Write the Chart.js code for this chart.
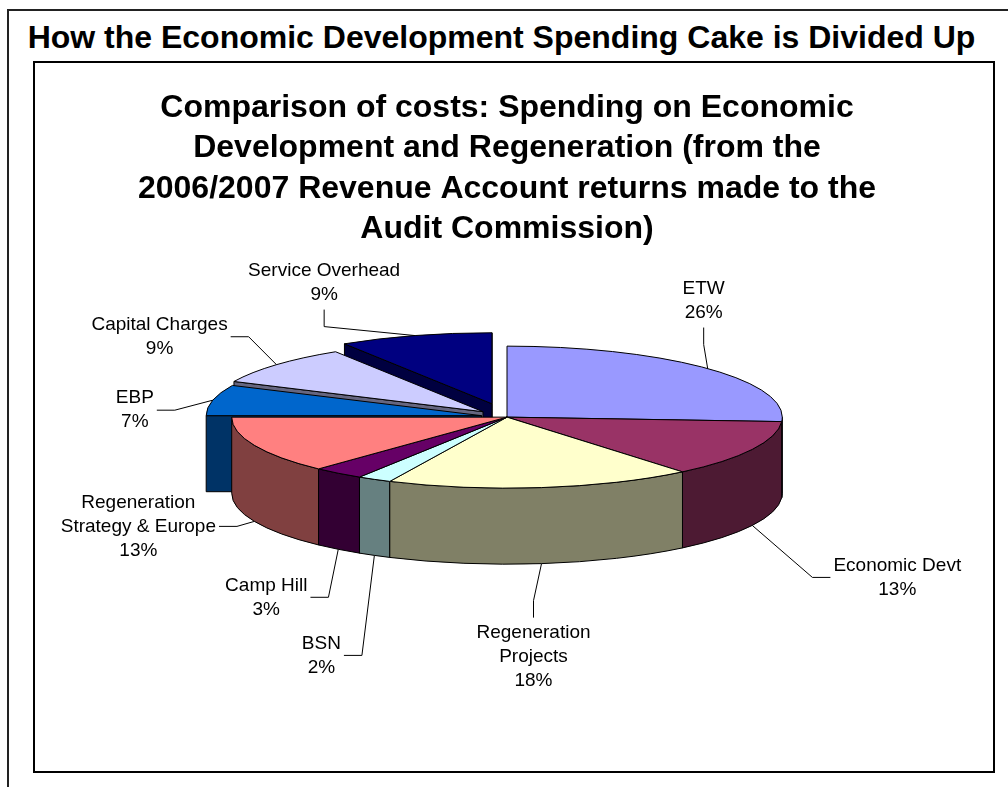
<!DOCTYPE html>
<html>
<head>
<meta charset="utf-8">
<script src="https://cdn.jsdelivr.net/npm/chart.js@4.4.0/dist/chart.umd.min.js"></script>
<style>
  html, body { margin: 0; padding: 0; background: #fff; }
  body { width: 1008px; height: 787px; overflow: hidden; position: relative;
         font-family: 'Liberation Sans', Arial, sans-serif; }
  #frame { position: absolute; left: 7px; top: 9px; width: 1020px; height: 800px;
           border: 2px solid #222; box-sizing: border-box; }
  #heading { position: absolute; left: 0; top: 21px; width: 1003px; text-align: center;
             font-weight: bold; font-size: 32px; line-height: 32px; color: #000; }
  #box { position: absolute; left: 33px; top: 61px; width: 962px; height: 712px;
         border: 2px solid #000; box-sizing: border-box; }
  #box canvas { position: absolute; left: 0; top: 0; }
</style>
</head>
<body>
<div id="frame"></div>
<div id="heading">How the Economic Development Spending Cake is Divided Up</div>
<div id="box"><canvas id="myChart" width="958" height="708"></canvas></div>

<script>
//////////////////////////////////// DATA

var categories = ['ETW', 'Economic Devt', 'Regeneration Projects', 'BSN', 'Camp Hill',
                  'Regeneration Strategy & Europe', 'EBP', 'Capital Charges', 'Service Overhead'];
var shares = [26, 13, 18, 2, 3, 13, 7, 9, 9];   // percent of spend

var titleLines = ['Comparison of costs: Spending on Economic',
                  'Development and Regeneration (from the',
                  '2006/2007 Revenue Account returns made to the',
                  'Audit Commission)'];

//////////////////////////////////// STYLE

var topColors = ['#9999FF', '#993366', '#FFFFCC', '#CCFFFF', '#660066',
                 '#FF8080', '#0066CC', '#CCCCFF', '#000080'];
var explode = [0, 0, 0, 0, 0, 0, 0.095, 0.116, 0.196];   // pulled-out slices, fraction of radius

// where each label sits, relative to the point its leader line starts from
var labelNudge = [[-4, -68], [145, 52], [-8, 93], [-53, 100], [-72, 48],
                  [-116, 5], [-78, 10], [-117, -28], [-91, -53]];

var FONT = "'Liberation Sans', Arial, sans-serif";
var LABEL_SIZE = 19;
var LABEL_LINE = 24;
var WRAP_WIDTH = 160;

// squash the flat pie into a tilted cake
var VIEW = { sx: 1.640, sy: 0.423, depth: 0.453 };

//////////////////////////////////// 3D PIE PLUGIN

function shade(hex) {
    var n = parseInt(hex.slice(1), 16);
    var r = (n >> 16) & 255, g = (n >> 8) & 255, b = n & 255;
    return 'rgb(' + Math.round(r / 2) + ',' + Math.round(g / 2) + ',' + Math.round(b / 2) + ')';
}

function wrap(ctx, text, maxW) {
    var words = text.split(' '), lines = [], cur = '';
    words.forEach(function (w) {
        var test = cur ? cur + ' ' + w : w;
        if (cur && ctx.measureText(test).width > maxW) { lines.push(cur); cur = w; }
        else cur = test;
    });
    if (cur) lines.push(cur);
    return lines;
}

const pie3d = {
    id: 'pie3d',
    beforeDatasetsDraw(chart) {
        const ctx = chart.ctx;
        const arcs = chart.getDatasetMeta(0).data;
        const R = arcs[0].outerRadius;
        const cx = arcs[0].x, cy = arcs[0].y;
        const rx = R * VIEW.sx, ry = R * VIEW.sy, dz = R * VIEW.depth;
        const total = shares.reduce((a, b) => a + b, 0);

        const faces = [], tops = [], anchors = [];

        arcs.forEach((el, i) => {
            const a0 = el.startAngle, a1 = el.endAngle, mid = (a0 + a1) / 2;
            const e = explode[i];
            const ox = cx + Math.cos(mid) * e * rx;
            const oy = cy + Math.sin(mid) * e * ry;
            const P = (a, z) => [ox + Math.cos(a) * rx, oy + Math.sin(a) * ry + z];
            const side = shade(topColors[i]);
            const lift = oy - cy;

            // outer wall, only the front half shows
            const s = Math.max(a0, 0), t = Math.min(a1, Math.PI);
            if (t > s) {
                faces.push({ key: lift + Math.sin((s + t) / 2) * ry, fill: side, path: c => {
                    c.ellipse(ox, oy, rx, ry, 0, s, t);
                    c.ellipse(ox, oy + dz, rx, ry, 0, t, s, true);
                    c.closePath();
                }});
            }
            // cut faces
            const cut = a => c => {
                const p = P(a, 0), q = P(a, dz);
                c.moveTo(ox, oy); c.lineTo(p[0], p[1]); c.lineTo(q[0], q[1]);
                c.lineTo(ox, oy + dz); c.closePath();
            };
            if (Math.cos(a0) < 0) faces.push({ key: lift + Math.sin(a0) * ry * 0.5, fill: side, path: cut(a0) });
            if (Math.cos(a1) > 0) faces.push({ key: lift + Math.sin(a1) * ry * 0.5, fill: side, path: cut(a1) });

            tops.push({ fill: topColors[i], path: c => {
                c.moveTo(ox, oy);
                c.ellipse(ox, oy, rx, ry, 0, a0, a1);
                c.closePath();
            }});

            anchors.push({ p: P(mid, Math.sin(mid) > 0 ? dz : 0),
                           pct: Math.round(shares[i] / total * 100) + '%' });
        });

        faces.sort((a, b) => a.key - b.key);

        ctx.save();
        ctx.lineWidth = 1;
        ctx.strokeStyle = '#000';
        ctx.lineJoin = 'round';
        faces.concat(tops).forEach(f => {
            ctx.beginPath();
            f.path(ctx);
            ctx.fillStyle = f.fill;
            ctx.fill();
            ctx.stroke();
        });

        // data labels with leader lines
        ctx.font = LABEL_SIZE + 'px ' + FONT;
        ctx.textAlign = 'center';
        ctx.textBaseline = 'middle';
        ctx.fillStyle = '#000';
        anchors.forEach((an, i) => {
            const lines = wrap(ctx, categories[i], WRAP_WIDTH).concat([an.pct]);
            const w = Math.max.apply(null, lines.map(l => ctx.measureText(l).width));
            const h = lines.length * LABEL_LINE;
            const dx = labelNudge[i][0], dy = labelNudge[i][1];
            const lx = an.p[0] + dx, ly = an.p[1] + dy;

            ctx.beginPath();
            ctx.moveTo(an.p[0], an.p[1]);
            if (Math.abs(dx) < w / 2 + 20 && Math.abs(dy) > h / 2 + 10) {
                // label above or below: leader comes in vertically
                const sgn = dy < 0 ? 1 : -1;
                const edgeY = dy < 0 ? ly + h / 2 + 3 : ly - h / 2 - 3;
                ctx.lineTo(lx, edgeY + sgn * 17);
                ctx.lineTo(lx, edgeY);
            } else {
                // label to the side: short horizontal stub
                const edgeX = dx < 0 ? lx + w / 2 + 3 : lx - w / 2 - 3;
                ctx.lineTo(edgeX + (dx < 0 ? 18 : -18), ly);
                ctx.lineTo(edgeX, ly);
            }
            ctx.strokeStyle = '#000';
            ctx.stroke();

            lines.forEach((ln, k) => {
                ctx.fillText(ln, lx, ly - h / 2 + LABEL_LINE * (k + 0.5));
            });
        });
        ctx.restore();
        return false;   // skip the flat default pie
    }
};

//////////////////////////////////// CHART

var myChart = new Chart(document.getElementById('myChart'), {
    type: 'pie',
    data: {
        labels: categories,
        datasets: [{
            data: shares,
            backgroundColor: topColors,
            borderWidth: 0,
            hoverOffset: 0,
            hoverBorderWidth: 0,
        }],
    },
    options: {
        responsive: false,
        animation: false,
        events: [],
        layout: { padding: { left: 0, right: 14, top: 0, bottom: 186 } },
        plugins: {
            legend: { display: false },
            tooltip: { enabled: false },
            title: {
                display: true,
                text: titleLines,
                color: '#000',
                font: { family: FONT, size: 32, weight: 'bold', lineHeight: 1.26 },
                padding: { top: 25, bottom: 0 },
            },
        },
    },
    plugins: [pie3d],
});
</script>
</body>
</html>
